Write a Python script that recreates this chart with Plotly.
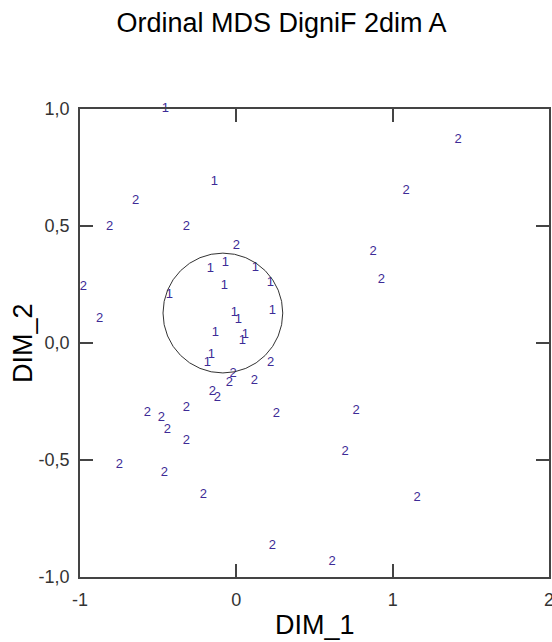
import plotly.graph_objects as go

# Group "1" object coordinates (DIM_1, DIM_2)
g1_x = [-0.454, -0.141, -0.166, -0.070, 0.121, 0.217, -0.077, -0.428, 0.230,
        -0.013, 0.013, -0.134, 0.058, 0.038, -0.160, -0.185]
g1_y = [1.000, 0.688, 0.316, 0.342, 0.320, 0.256, 0.244, 0.205, 0.137,
        0.128, 0.098, 0.043, 0.034, 0.009, -0.051, -0.085]

# Group "2" object coordinates
g2_x = [1.419, -0.645, 1.086, -0.811, -0.319, 0.000, 0.875, 0.927, -0.978,
        -0.875, 0.220, -0.020, -0.045, 0.115, -0.153, -0.121, -0.569, -0.319,
        -0.479, -0.441, -0.319, 0.256, 0.767, 0.696, -0.748, -0.460, -0.211,
        0.230, 0.613, 1.157]
g2_y = [0.868, 0.607, 0.650, 0.496, 0.496, 0.415, 0.389, 0.269, 0.239,
        0.103, -0.085, -0.132, -0.171, -0.162, -0.209, -0.235, -0.299, -0.278,
        -0.320, -0.372, -0.419, -0.303, -0.291, -0.466, -0.521, -0.556, -0.650,
        -0.868, -0.936, -0.662]

# Circle around group 1 (data bounds)
circle_x = [-0.469, 0.297]
circle_y = [-0.128, 0.384]

x_ticks = [-1, 0, 1, 2]
x_tick_labels = ["-1", "0", "1", "2"]
y_ticks = [-1.0, -0.5, 0.0, 0.5, 1.0]
y_tick_labels = ["-1,0", "-0,5", "0,0", "0,5", "1,0"]

FONT = "Arial, 'Liberation Sans', sans-serif"
MARK = "#3d2b96"

fig = go.Figure()
fig.add_trace(go.Scatter(x=g1_x, y=g1_y, mode="text", text=["1"] * len(g1_x),
                         textfont=dict(family=FONT, size=13, color=MARK),
                         textposition="middle center", cliponaxis=False,
                         hoverinfo="x+y", showlegend=False))
fig.add_trace(go.Scatter(x=g2_x, y=g2_y, mode="text", text=["2"] * len(g2_x),
                         textfont=dict(family=FONT, size=13, color=MARK),
                         textposition="middle center", cliponaxis=False,
                         hoverinfo="x+y", showlegend=False))

fig.add_shape(type="circle", xref="x", yref="y",
              x0=circle_x[0], x1=circle_x[1], y0=circle_y[0], y1=circle_y[1],
              line=dict(color="#333333", width=1))

axis_common = dict(showgrid=False, zeroline=False, showline=True, linecolor="#444444",
                   linewidth=1.5, mirror="ticks", ticks="inside", ticklen=13,
                   tickwidth=1.5, tickcolor="#444444", ticklabeloverflow="allow",
                   automargin=False,
                   tickfont=dict(family=FONT, size=18, color="#333333"))

fig.update_xaxes(range=[-1, 2], tickvals=x_ticks, ticktext=x_tick_labels,
                 ticklabelstandoff=6, **axis_common)
fig.update_yaxes(range=[-1, 1], tickvals=y_ticks, ticktext=y_tick_labels,
                 ticklabelstandoff=5, **axis_common)

fig.add_annotation(text="DIM_1", xref="paper", yref="paper", x=0.5, y=0,
                   xanchor="center", yanchor="middle", yshift=-48, showarrow=False,
                   font=dict(family=FONT, size=27, color="#000000"))
fig.add_annotation(text="DIM_2", xref="paper", yref="paper", x=0, y=0.5,
                   xanchor="center", yanchor="middle", xshift=-57, textangle=-90,
                   showarrow=False, font=dict(family=FONT, size=27, color="#000000"))

fig.update_layout(
    width=552, height=642,
    margin=dict(l=80, r=3, t=109, b=65, autoexpand=False),
    paper_bgcolor="white", plot_bgcolor="white",
    title=dict(text="Ordinal MDS DigniF 2dim A", x=281.5 / 552, xanchor="center",
               y=1 - 23 / 642, yanchor="middle",
               font=dict(family=FONT, size=27, color="#000000")),
)

fig.write_html("out.html")
